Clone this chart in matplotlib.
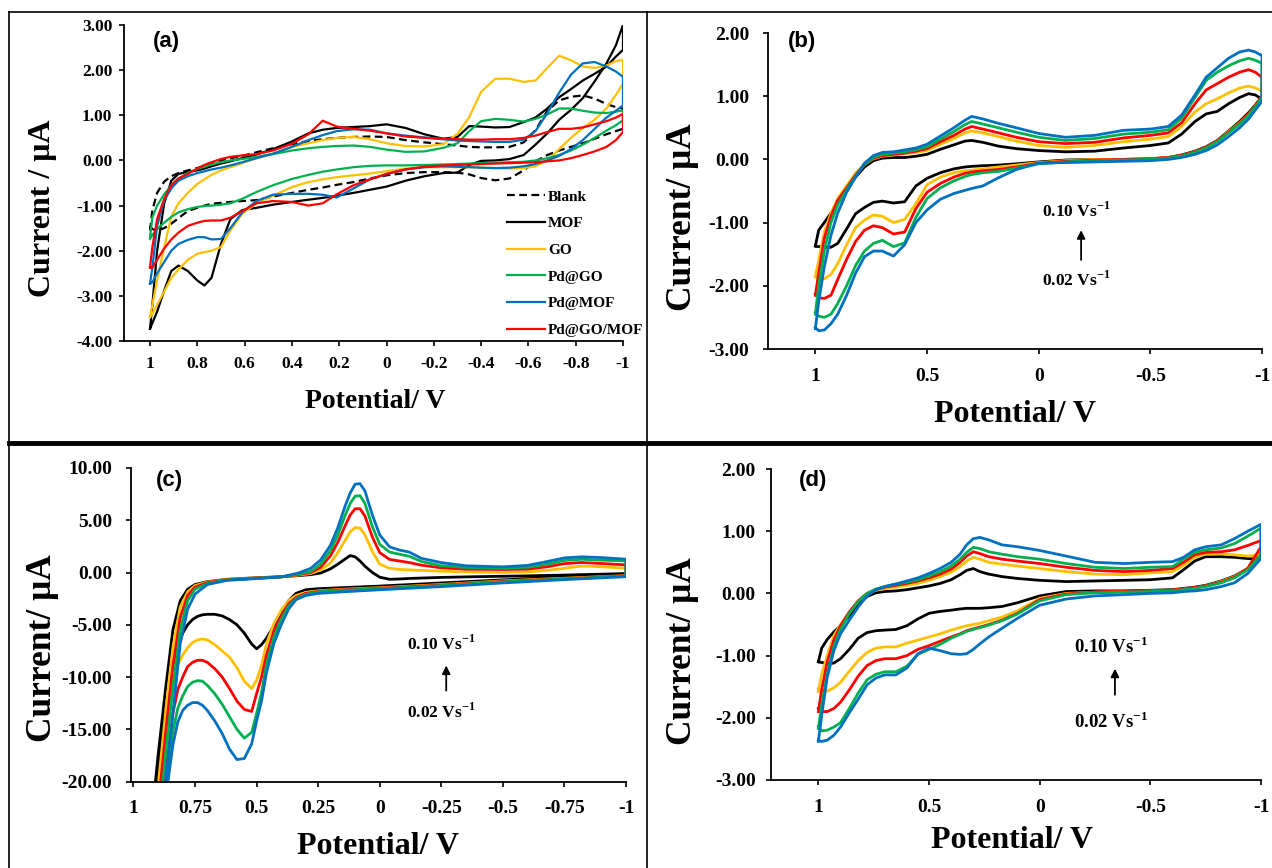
import matplotlib
matplotlib.use("Agg")
import matplotlib.pyplot as plt
from matplotlib.lines import Line2D

plt.rcParams['font.family'] = 'Liberation Serif'
plt.rcParams['font.weight'] = 'bold'
plt.rcParams['mathtext.fontset'] = 'custom'
plt.rcParams['mathtext.rm'] = 'Liberation Serif:bold'
plt.rcParams['mathtext.bf'] = 'Liberation Serif:bold'
plt.rcParams['axes.unicode_minus'] = False

# ---------------- panel (a): different electrodes ----------------
xa = [1.0, 0.99, 0.97, 0.94, 0.91, 0.88, 0.84, 0.80, 0.77, 0.74,
      0.70, 0.66, 0.61, 0.55, 0.48, 0.40, 0.33, 0.27, 0.21, 0.14,
      0.07, 0.0, -0.08, -0.16, -0.24, -0.30, -0.35, -0.40, -0.46, -0.52,
      -0.58, -0.63, -0.68, -0.73, -0.78, -0.83, -0.88, -0.93, -0.97, -1.0]

blank_up = [-1.55, -1.10, -0.72, -0.47, -0.35, -0.28, -0.22, -0.17, -0.12, -0.07,
            0.00, 0.05, 0.10, 0.18, 0.27, 0.36, 0.43, 0.47, 0.50, 0.52,
            0.53, 0.52, 0.45, 0.40, 0.36, 0.33, 0.30, 0.29, 0.29, 0.30,
            0.40, 0.67, 1.10, 1.33, 1.41, 1.44, 1.37, 1.25, 1.18, 1.15]
blank_lo = [-1.45, -1.52, -1.55, -1.50, -1.40, -1.28, -1.12, -1.05, -1.00, -0.96,
            -0.94, -0.92, -0.90, -0.88, -0.80, -0.72, -0.65, -0.60, -0.54, -0.48,
            -0.40, -0.33, -0.28, -0.26, -0.26, -0.27, -0.31, -0.39, -0.44, -0.40,
            -0.22, -0.02, 0.12, 0.22, 0.30, 0.38, 0.48, 0.58, 0.65, 0.70]
mof_up = [-3.73, -3.20, -2.00, -0.95, -0.45, -0.30, -0.25, -0.22, -0.18, -0.13,
          -0.07, -0.02, 0.05, 0.13, 0.25, 0.42, 0.60, 0.68, 0.72, 0.74,
          0.76, 0.80, 0.72, 0.58, 0.48, 0.52, 0.76, 0.75, 0.73, 0.74,
          0.85, 0.95, 1.15, 1.40, 1.58, 1.77, 1.92, 2.08, 2.30, 2.45]
mof_lo = [-3.73, -3.60, -3.35, -2.88, -2.45, -2.33, -2.45, -2.66, -2.77, -2.60,
          -1.85, -1.30, -1.10, -1.05, -0.98, -0.92, -0.87, -0.83, -0.78, -0.72,
          -0.65, -0.58, -0.45, -0.35, -0.28, -0.27, -0.10, -0.01, 0.00, 0.03,
          0.12, 0.35, 0.60, 0.90, 1.12, 1.38, 1.75, 2.15, 2.55, 3.00]
go_up = [-3.47, -3.20, -2.66, -1.92, -1.25, -0.95, -0.72, -0.52, -0.42, -0.32,
         -0.22, -0.15, -0.06, 0.05, 0.15, 0.30, 0.38, 0.45, 0.50, 0.52,
         0.47, 0.38, 0.32, 0.31, 0.36, 0.59, 0.96, 1.52, 1.81, 1.81,
         1.74, 1.77, 2.05, 2.32, 2.22, 2.08, 2.05, 2.10, 2.20, 2.23]
go_lo = [-3.47, -3.40, -3.20, -2.90, -2.60, -2.42, -2.20, -2.07, -2.03, -2.00,
         -1.92, -1.55, -1.18, -0.95, -0.78, -0.59, -0.48, -0.42, -0.37, -0.33,
         -0.29, -0.24, -0.18, -0.15, -0.15, -0.15, -0.15, -0.16, -0.17, -0.18,
         -0.17, -0.13, 0.00, 0.25, 0.50, 0.72, 0.90, 1.15, 1.45, 1.70]
pdgo_up = [-1.70, -1.26, -1.00, -0.75, -0.55, -0.40, -0.28, -0.19, -0.14, -0.09,
           -0.04, 0.00, 0.03, 0.08, 0.14, 0.22, 0.27, 0.30, 0.32, 0.33,
           0.30, 0.24, 0.19, 0.20, 0.28, 0.38, 0.65, 0.87, 0.92, 0.90,
           0.86, 0.92, 1.02, 1.15, 1.15, 1.10, 1.06, 1.05, 1.08, 1.11]
pdgo_lo = [-1.74, -1.65, -1.52, -1.38, -1.25, -1.15, -1.08, -1.03, -1.01, -1.00,
           -0.98, -0.95, -0.85, -0.70, -0.55, -0.41, -0.32, -0.25, -0.20, -0.15,
           -0.12, -0.11, -0.11, -0.10, -0.09, -0.08, -0.07, -0.06, -0.05, -0.04,
           -0.03, 0.00, 0.05, 0.12, 0.22, 0.35, 0.50, 0.66, 0.78, 0.89]
pdmof_up = [-2.73, -2.37, -1.45, -0.88, -0.62, -0.45, -0.35, -0.28, -0.24, -0.20,
            -0.16, -0.11, -0.04, 0.05, 0.15, 0.30, 0.45, 0.56, 0.65, 0.69,
            0.68, 0.60, 0.55, 0.51, 0.47, 0.44, 0.43, 0.42, 0.41, 0.41,
            0.46, 0.65, 1.05, 1.50, 1.90, 2.15, 2.18, 2.08, 1.97, 1.85]
pdmof_lo = [-2.73, -2.70, -2.50, -2.25, -2.00, -1.85, -1.76, -1.70, -1.70, -1.75,
            -1.74, -1.50, -1.15, -0.90, -0.76, -0.74, -0.74, -0.76, -0.82, -0.62,
            -0.42, -0.30, -0.20, -0.15, -0.13, -0.14, -0.15, -0.16, -0.17, -0.16,
            -0.13, -0.08, 0.00, 0.10, 0.25, 0.45, 0.70, 0.95, 1.10, 1.22]
pdgomof_up = [-2.37, -1.92, -1.30, -0.85, -0.55, -0.40, -0.30, -0.18, -0.10, -0.04,
              0.03, 0.08, 0.11, 0.14, 0.22, 0.37, 0.58, 0.88, 0.75, 0.70,
              0.66, 0.60, 0.53, 0.50, 0.48, 0.47, 0.46, 0.46, 0.47, 0.47,
              0.50, 0.55, 0.63, 0.70, 0.70, 0.73, 0.80, 0.87, 0.95, 1.03]
pdgomof_lo = [-2.37, -2.37, -2.20, -1.95, -1.75, -1.60, -1.45, -1.38, -1.34, -1.33,
              -1.33, -1.27, -1.12, -0.95, -0.90, -0.92, -1.00, -0.95, -0.75, -0.55,
              -0.42, -0.30, -0.20, -0.14, -0.11, -0.10, -0.09, -0.08, -0.07, -0.06,
              -0.05, -0.04, -0.02, 0.00, 0.05, 0.12, 0.20, 0.30, 0.45, 0.63]
a_labels = ['Blank', 'MOF', 'GO', 'Pd@GO', 'Pd@MOF', 'Pd@GO/MOF']

# ---------------- panel (b): scan rates ----------------
xb = [1.0, 0.985, 0.96, 0.93, 0.9, 0.86, 0.82, 0.78, 0.74, 0.7,
      0.65, 0.6, 0.55, 0.5, 0.44, 0.38, 0.33, 0.3, 0.25, 0.18,
      0.1, 0.0, -0.12, -0.25, -0.38, -0.5, -0.58, -0.64, -0.7, -0.75,
      -0.8, -0.85, -0.9, -0.94, -0.97, -1.0]
b_k_up = [-1.37, -1.12, -1.00, -0.85, -0.68, -0.48, -0.28, -0.12, -0.02, 0.02,
          0.03, 0.03, 0.05, 0.08, 0.16, 0.23, 0.29, 0.30, 0.27, 0.21,
          0.17, 0.14, 0.12, 0.13, 0.18, 0.22, 0.26, 0.40, 0.60, 0.72,
          0.76, 0.88, 0.98, 1.04, 1.02, 0.95]
b_k_lo = [-1.37, -1.38, -1.39, -1.39, -1.33, -1.10, -0.86, -0.76, -0.68, -0.66,
          -0.69, -0.67, -0.42, -0.30, -0.21, -0.15, -0.12, -0.11, -0.10, -0.09,
          -0.07, -0.04, -0.01, 0.00, 0.00, 0.01, 0.03, 0.07, 0.13, 0.20,
          0.30, 0.45, 0.60, 0.74, 0.86, 1.00]
b_y_up = [-1.85, -1.60, -1.15, -0.85, -0.62, -0.42, -0.22, -0.08, 0.01, 0.05,
          0.07, 0.09, 0.11, 0.14, 0.24, 0.33, 0.42, 0.45, 0.42, 0.36,
          0.29, 0.22, 0.19, 0.22, 0.28, 0.32, 0.36, 0.52, 0.75, 0.88,
          0.96, 1.05, 1.13, 1.16, 1.13, 1.08]
b_y_lo = [-1.86, -1.88, -1.89, -1.82, -1.65, -1.35, -1.08, -0.96, -0.88, -0.90,
          -1.00, -0.95, -0.70, -0.40, -0.28, -0.21, -0.18, -0.17, -0.15, -0.12,
          -0.09, -0.05, -0.02, 0.00, 0.00, 0.01, 0.03, 0.06, 0.12, 0.19,
          0.29, 0.44, 0.58, 0.72, 0.85, 1.00]
b_r_up = [-2.15, -1.80, -1.25, -0.90, -0.65, -0.45, -0.25, -0.08, 0.02, 0.06,
          0.08, 0.10, 0.13, 0.17, 0.28, 0.38, 0.48, 0.52, 0.48, 0.42,
          0.35, 0.28, 0.25, 0.27, 0.34, 0.38, 0.42, 0.58, 0.88, 1.10,
          1.20, 1.30, 1.38, 1.42, 1.38, 1.30]
b_r_lo = [-2.13, -2.19, -2.20, -2.15, -1.90, -1.58, -1.30, -1.12, -1.05, -1.08,
          -1.18, -1.15, -0.78, -0.52, -0.38, -0.28, -0.22, -0.20, -0.18, -0.16,
          -0.12, -0.06, -0.03, -0.01, 0.00, 0.01, 0.03, 0.06, 0.12, 0.19,
          0.29, 0.43, 0.57, 0.72, 0.85, 1.00]
b_g_up = [-2.45, -2.00, -1.45, -1.00, -0.72, -0.48, -0.27, -0.08, 0.03, 0.08,
          0.10, 0.12, 0.15, 0.20, 0.32, 0.44, 0.55, 0.60, 0.56, 0.50,
          0.43, 0.35, 0.30, 0.33, 0.40, 0.43, 0.47, 0.65, 0.98, 1.25,
          1.38, 1.48, 1.56, 1.60, 1.57, 1.52]
b_g_lo = [-2.42, -2.48, -2.50, -2.45, -2.28, -2.00, -1.68, -1.45, -1.33, -1.28,
          -1.38, -1.32, -0.92, -0.62, -0.45, -0.34, -0.27, -0.24, -0.21, -0.19,
          -0.14, -0.07, -0.04, -0.02, -0.01, 0.00, 0.02, 0.05, 0.11, 0.18,
          0.28, 0.42, 0.56, 0.70, 0.83, 0.98]
b_b_up = [-2.68, -2.25, -1.70, -1.20, -0.85, -0.52, -0.28, -0.06, 0.06, 0.11,
          0.12, 0.15, 0.18, 0.24, 0.37, 0.50, 0.62, 0.68, 0.64, 0.57,
          0.50, 0.41, 0.35, 0.38, 0.46, 0.48, 0.52, 0.70, 1.02, 1.30,
          1.45, 1.60, 1.70, 1.73, 1.70, 1.64]
b_b_lo = [-2.66, -2.71, -2.70, -2.60, -2.45, -2.15, -1.80, -1.54, -1.45, -1.45,
          -1.53, -1.35, -1.00, -0.80, -0.63, -0.54, -0.49, -0.46, -0.42, -0.29,
          -0.16, -0.06, -0.05, -0.04, -0.03, -0.02, 0.00, 0.03, 0.08, 0.14,
          0.23, 0.36, 0.50, 0.64, 0.78, 0.92]

# ---------------- panel (c) ----------------
xc_up = [0.93, 0.9, 0.87, 0.84, 0.81, 0.78, 0.75, 0.7, 0.62, 0.5,
         0.4, 0.33, 0.28, 0.24, 0.2, 0.17, 0.14, 0.12, 0.1, 0.08,
         0.06, 0.03, 0.0, -0.04, -0.08, -0.12, -0.17, -0.25, -0.35, -0.5,
         -0.6, -0.68, -0.75, -0.82, -0.9, -1.0]
xc_lo = [0.93, 0.9, 0.88, 0.86, 0.84, 0.82, 0.8, 0.78, 0.76, 0.74,
         0.72, 0.7, 0.67, 0.64, 0.61, 0.58, 0.55, 0.52, 0.5, 0.48,
         0.46, 0.43, 0.4, 0.37, 0.34, 0.3, 0.25, 0.15, 0.0, -0.25,
         -0.5, -0.75, -1.0]
c_k_up = [-24.5, -17.5, -11.2, -5.5, -2.7, -1.6, -1.15, -0.88, -0.65, -0.50,
          -0.40, -0.30, -0.20, -0.05, 0.35, 0.80, 1.30, 1.62, 1.50, 1.10,
          0.60, 0.00, -0.45, -0.65, -0.62, -0.57, -0.53, -0.47, -0.42, -0.36,
          -0.32, -0.28, -0.25, -0.20, -0.16, -0.10]
c_y_up = [-27.0, -20.5, -13.5, -7.2, -3.3, -1.85, -1.25, -0.92, -0.67, -0.52,
          -0.42, -0.25, -0.10, 0.25, 0.90, 1.90, 3.10, 3.90, 4.30, 4.25,
          3.60, 2.00, 0.80, 0.40, 0.30, 0.25, 0.20, 0.12, 0.06, 0.00,
          0.05, 0.20, 0.40, 0.62, 0.55, 0.41]
c_r_up = [-29.0, -22.5, -15.5, -9.0, -4.3, -2.2, -1.4, -0.97, -0.70, -0.54,
          -0.42, -0.20, 0.00, 0.50, 1.60, 2.90, 4.50, 5.50, 6.10, 6.10,
          5.40, 3.40, 1.90, 1.25, 1.10, 0.95, 0.70, 0.45, 0.32, 0.29,
          0.32, 0.55, 0.85, 0.96, 0.86, 0.73]
c_g_up = [-31.0, -24.5, -17.5, -11.0, -5.5, -2.7, -1.6, -1.05, -0.72, -0.56,
          -0.42, -0.15, 0.10, 0.80, 2.10, 3.60, 5.50, 6.60, 7.30, 7.35,
          6.60, 4.40, 2.70, 1.95, 1.75, 1.55, 1.05, 0.65, 0.48, 0.41,
          0.50, 0.80, 1.15, 1.27, 1.18, 1.11]
c_b_up = [-33.0, -26.0, -20.0, -13.5, -6.8, -3.5, -2.07, -1.15, -0.75, -0.58,
          -0.42, -0.05, 0.40, 1.20, 2.60, 4.30, 6.40, 7.60, 8.45, 8.50,
          7.80, 5.50, 3.60, 2.45, 2.15, 1.95, 1.35, 0.95, 0.64, 0.54,
          0.68, 1.05, 1.40, 1.50, 1.43, 1.27]
c_k_lo = [-27.0, -20.0, -15.2, -12.0, -8.8, -7.0, -5.8, -5.0, -4.5, -4.2,
          -4.05, -4.0, -4.0, -4.15, -4.5, -5.0, -5.8, -6.85, -7.3, -6.9,
          -6.3, -5.1, -3.9, -2.7, -2.0, -1.65, -1.55, -1.45, -1.30, -1.00,
          -0.70, -0.45, -0.20]
c_y_lo = [-30.0, -22.0, -17.0, -13.5, -10.8, -8.8, -7.9, -7.2, -6.7, -6.45,
          -6.37, -6.45, -6.9, -7.5, -8.1, -9.1, -10.4, -11.1, -10.3, -8.9,
          -6.8, -4.9, -3.6, -2.7, -2.2, -1.9, -1.75, -1.6, -1.45, -1.15,
          -0.80, -0.55, -0.30]
c_r_lo = [-32.0, -25.0, -21.5, -17.5, -13.5, -11.2, -10.0, -9.0, -8.6, -8.4,
          -8.4, -8.6, -9.2, -10.0, -11.1, -12.3, -13.1, -13.3, -11.6, -10.0,
          -7.9, -5.6, -4.2, -3.0, -2.4, -2.0, -1.8, -1.65, -1.5, -1.2,
          -0.85, -0.6, -0.32]
c_g_lo = [-34.0, -27.0, -23.5, -19.0, -15.2, -13.0, -11.8, -10.9, -10.5, -10.35,
          -10.4, -10.8, -11.6, -12.6, -13.8, -15.0, -15.85, -15.3, -13.5, -11.5,
          -8.8, -6.2, -4.5, -3.2, -2.5, -2.1, -1.85, -1.7, -1.55, -1.25,
          -0.9, -0.62, -0.35]
c_b_lo = [-36.0, -29.0, -25.0, -20.0, -16.5, -14.3, -13.2, -12.7, -12.45, -12.45,
          -12.7, -13.2, -14.2, -15.4, -16.9, -17.9, -17.8, -16.4, -14.2, -12.3,
          -9.6, -6.8, -5.0, -3.5, -2.6, -2.2, -2.0, -1.85, -1.65, -1.35,
          -1.0, -0.68, -0.4]

# ---------------- panel (d) ----------------
xd = [1.0, 0.985, 0.96, 0.93, 0.9, 0.86, 0.82, 0.78, 0.74, 0.7,
      0.65, 0.6, 0.55, 0.5, 0.45, 0.4, 0.36, 0.33, 0.3, 0.27,
      0.23, 0.17, 0.1, 0.0, -0.12, -0.25, -0.38, -0.5, -0.6, -0.65,
      -0.7, -0.75, -0.82, -0.88, -0.94, -1.0]
d_k_up = [-1.10, -0.88, -0.74, -0.62, -0.52, -0.36, -0.18, -0.05, 0.01, 0.03,
          0.04, 0.06, 0.09, 0.12, 0.16, 0.22, 0.30, 0.37, 0.40, 0.35,
          0.31, 0.27, 0.24, 0.21, 0.19, 0.20, 0.21, 0.22, 0.25, 0.38,
          0.52, 0.59, 0.59, 0.58, 0.56, 0.55]
d_y_up = [-1.58, -1.30, -1.00, -0.68, -0.50, -0.30, -0.12, 0.00, 0.05, 0.08,
          0.10, 0.13, 0.16, 0.21, 0.27, 0.34, 0.43, 0.52, 0.58, 0.55,
          0.50, 0.47, 0.44, 0.40, 0.35, 0.31, 0.30, 0.33, 0.35, 0.45,
          0.58, 0.63, 0.64, 0.62, 0.60, 0.62]
d_r_up = [-1.90, -1.55, -1.10, -0.75, -0.52, -0.30, -0.12, 0.00, 0.06, 0.10,
          0.13, 0.16, 0.20, 0.25, 0.31, 0.39, 0.50, 0.60, 0.67, 0.64,
          0.59, 0.55, 0.52, 0.48, 0.42, 0.37, 0.35, 0.37, 0.40, 0.50,
          0.62, 0.66, 0.67, 0.70, 0.77, 0.85]
d_g_up = [-2.17, -1.80, -1.30, -0.85, -0.58, -0.32, -0.13, 0.00, 0.07, 0.11,
          0.15, 0.18, 0.22, 0.28, 0.35, 0.44, 0.55, 0.66, 0.74, 0.72,
          0.67, 0.63, 0.59, 0.55, 0.48, 0.42, 0.40, 0.42, 0.43, 0.55,
          0.66, 0.70, 0.73, 0.80, 0.92, 1.05]
d_b_up = [-2.38, -1.96, -1.35, -0.92, -0.65, -0.43, -0.22, -0.04, 0.06, 0.11,
          0.15, 0.20, 0.25, 0.32, 0.40, 0.50, 0.63, 0.78, 0.88, 0.90,
          0.86, 0.78, 0.75, 0.69, 0.60, 0.50, 0.48, 0.50, 0.51, 0.58,
          0.70, 0.75, 0.78, 0.88, 1.00, 1.11]
d_k_lo = [-1.10, -1.11, -1.13, -1.12, -1.05, -0.90, -0.72, -0.63, -0.60, -0.59,
          -0.58, -0.52, -0.41, -0.32, -0.29, -0.27, -0.25, -0.24, -0.24, -0.24,
          -0.23, -0.21, -0.15, -0.04, 0.03, 0.04, 0.04, 0.05, 0.06, 0.08,
          0.10, 0.13, 0.20, 0.28, 0.40, 0.70]
d_y_lo = [-1.53, -1.57, -1.57, -1.52, -1.43, -1.25, -1.08, -0.95, -0.88, -0.86,
          -0.86, -0.80, -0.75, -0.70, -0.65, -0.59, -0.55, -0.52, -0.50, -0.48,
          -0.44, -0.38, -0.28, -0.08, 0.00, 0.02, 0.03, 0.04, 0.05, 0.07,
          0.09, 0.12, 0.19, 0.27, 0.40, 0.73]
d_r_lo = [-1.85, -1.90, -1.90, -1.85, -1.75, -1.55, -1.33, -1.16, -1.08, -1.05,
          -1.05, -1.00, -0.90, -0.84, -0.77, -0.70, -0.65, -0.60, -0.57, -0.54,
          -0.50, -0.43, -0.32, -0.10, -0.01, 0.02, 0.03, 0.04, 0.05, 0.07,
          0.09, 0.12, 0.18, 0.26, 0.40, 0.75]
d_g_lo = [-2.14, -2.21, -2.20, -2.15, -2.08, -1.85, -1.60, -1.39, -1.30, -1.26,
          -1.26, -1.17, -0.98, -0.90, -0.82, -0.72, -0.66, -0.61, -0.58, -0.55,
          -0.51, -0.44, -0.33, -0.12, -0.02, 0.01, 0.02, 0.03, 0.04, 0.06,
          0.08, 0.11, 0.17, 0.25, 0.38, 0.62]
d_b_lo = [-2.36, -2.38, -2.36, -2.28, -2.15, -1.92, -1.70, -1.47, -1.36, -1.31,
          -1.31, -1.20, -0.97, -0.88, -0.92, -0.97, -0.98, -0.97, -0.90, -0.81,
          -0.70, -0.56, -0.40, -0.19, -0.09, -0.04, -0.02, 0.00, 0.01, 0.03,
          0.04, 0.06, 0.11, 0.17, 0.32, 0.56]

# ticks
a_xticks = [1, 0.8, 0.6, 0.4, 0.2, 0, -0.2, -0.4, -0.6, -0.8, -1]
a_yticks = [3, 2, 1, 0, -1, -2, -3, -4]
bd_xticks = [1, 0.5, 0, -0.5, -1]
bd_yticks = [2, 1, 0, -1, -2, -3]
c_xticks = [1, 0.75, 0.5, 0.25, 0, -0.25, -0.5, -0.75, -1]
c_yticks = [10, 5, 0, -5, -10, -15, -20]

K, Y, G, B, R = '#000000', '#FFC000', '#00B050', '#0070C0', '#FF0000'

W, H = 1272, 868
fig = plt.figure(figsize=(W / 100, H / 100), dpi=100)


def rect(l, t, r, b):
    return [l / W, 1 - b / H, (r - l) / W, (b - t) / H]


def pt(x, y):
    return (x / W, 1 - y / H)


def loop(ax, xu, up, xl, lo, color, lw, **kw):
    xs = list(xu) + list(xl)[::-1]
    ys = list(up) + list(lo)[::-1]
    return ax.plot(xs, ys, color=color, lw=lw, solid_joinstyle='round', **kw)[0]


def style(ax, xlim, ylim, xt, yt, size, xpad, ypad):
    ax.set_xlim(xlim)
    ax.set_ylim(ylim)
    ax.spines[['top', 'right']].set_visible(False)
    ax.spines[['left', 'bottom']].set_linewidth(1.3)
    ax.set_xticks(xt, ['%g' % t for t in xt])
    ax.set_yticks(yt, ['%.2f' % t for t in yt])
    ax.tick_params(direction='out', length=3.5, width=1.2, labelsize=size)
    ax.tick_params(axis='x', pad=xpad)
    ax.tick_params(axis='y', pad=ypad)


def rate_note(ax, x, y_hi, y_lo, y_top, y_bot, size):
    ax.text(x, y_hi, '0.10 Vs$^{-1}$', ha='center', va='center', size=size)
    ax.text(x, y_lo, '0.02 Vs$^{-1}$', ha='center', va='center', size=size)
    ax.annotate('', xy=(x - 0.02, y_top), xytext=(x - 0.02, y_bot),
                arrowprops=dict(arrowstyle='-|>', color='k', lw=1.3,
                                mutation_scale=12, shrinkA=0, shrinkB=0))


# ---- (a)
ax = fig.add_axes(rect(124, 25, 623, 341))
lines = [
    loop(ax, xa, blank_up, xa, blank_lo, K, 1.6, ls=(0, (3.5, 2.0))),
    loop(ax, xa, mof_up, xa, mof_lo, K, 1.6),
    loop(ax, xa, go_up, xa, go_lo, Y, 1.6),
    loop(ax, xa, pdgo_up, xa, pdgo_lo, G, 1.6),
    loop(ax, xa, pdmof_up, xa, pdmof_lo, B, 1.6),
    loop(ax, xa, pdgomof_up, xa, pdgomof_lo, R, 1.6),
]
style(ax, (1.11, -1), (-4, 3), a_xticks, a_yticks, 12.5, 7, 5)
ax.legend(lines, a_labels, loc='upper left', bbox_to_anchor=pt(507, 190),
          bbox_transform=fig.transFigure, frameon=False, fontsize=11,
          handlelength=2.5, handletextpad=0.2, labelspacing=0.85,
          borderpad=0, borderaxespad=0)

# ---- (b)
ax = fig.add_axes(rect(768, 33, 1262, 349))
loop(ax, xb, b_k_up, xb, b_k_lo, K, 2.0)
loop(ax, xb, b_y_up, xb, b_y_lo, Y, 2.0)
loop(ax, xb, b_r_up, xb, b_r_lo, R, 2.0)
loop(ax, xb, b_g_up, xb, b_g_lo, G, 2.0)
loop(ax, xb, b_b_up, xb, b_b_lo, B, 2.0)
style(ax, (1.212, -1), (-3, 2), bd_xticks, bd_yticks, 14, 10, 10)
rate_note(ax, -0.17, -0.82, -1.91, -1.12, -1.59, 12.5)

# ---- (c)
ax = fig.add_axes(rect(131, 468, 626, 781.5))
loop(ax, xc_up, c_k_up, xc_lo, c_k_lo, K, 2.0)
loop(ax, xc_up, c_y_up, xc_lo, c_y_lo, Y, 2.0)
loop(ax, xc_up, c_r_up, xc_lo, c_r_lo, R, 2.0)
loop(ax, xc_up, c_g_up, xc_lo, c_g_lo, G, 2.0)
loop(ax, xc_up, c_b_up, xc_lo, c_b_lo, B, 2.0)
style(ax, (1.01, -1), (-20, 10), c_xticks, c_yticks, 14, 10, 10)
rate_note(ax, -0.25, -6.8, -13.4, -8.9, -11.3, 12.5)

# ---- (d)
ax = fig.add_axes(rect(771, 469, 1261, 780))
loop(ax, xd, d_k_up, xd, d_k_lo, K, 2.0)
loop(ax, xd, d_y_up, xd, d_y_lo, Y, 2.0)
loop(ax, xd, d_r_up, xd, d_r_lo, R, 2.0)
loop(ax, xd, d_g_up, xd, d_g_lo, G, 2.0)
loop(ax, xd, d_b_up, xd, d_b_lo, B, 2.0)
style(ax, (1.214, -1), (-3, 2), bd_xticks, bd_yticks, 14, 10, 7.5)
rate_note(ax, -0.32, -0.86, -2.06, -1.21, -1.63, 13.5)

# panel letters
for txt, x, y in [('(a)', 166, 42), ('(b)', 802, 42), ('(c)', 169, 480), ('(d)', 813, 480)]:
    fig.text(*pt(x, y), txt, family='Liberation Sans', weight='bold', size=16,
             ha='center', va='center')

# axis titles
fig.text(*pt(43, 208), 'Current / \u03bcA', rotation=90, size=23, ha='center', va='center')
for x, y in [(682, 217), (43, 648), (682, 651)]:
    fig.text(*pt(x, y), 'Current/ \u03bcA', rotation=90, size=25.5, ha='center', va='center')
fig.text(*pt(375, 402), 'Potential/ V', size=20, ha='center', va='center')
for x, y in [(1015, 414), (378, 846), (1012, 840)]:
    fig.text(*pt(x, y), 'Potential/ V', size=23, ha='center', va='center')

# panel frame lines
fig.add_artist(Line2D([9 / W, 9 / W], [0, 1 - 12 / H], color='k', lw=1.2))
fig.add_artist(Line2D([9 / W, 1], [1 - 12 / H, 1 - 12 / H], color='k', lw=1.2))
fig.add_artist(Line2D([647 / W, 647 / W], [0, 1 - 12 / H], color='k', lw=1.2))
fig.add_artist(Line2D([9 / W, 1], [1 - 443 / H, 1 - 443 / H], color='k', lw=3.5))

fig.savefig('out.png', dpi=100)
